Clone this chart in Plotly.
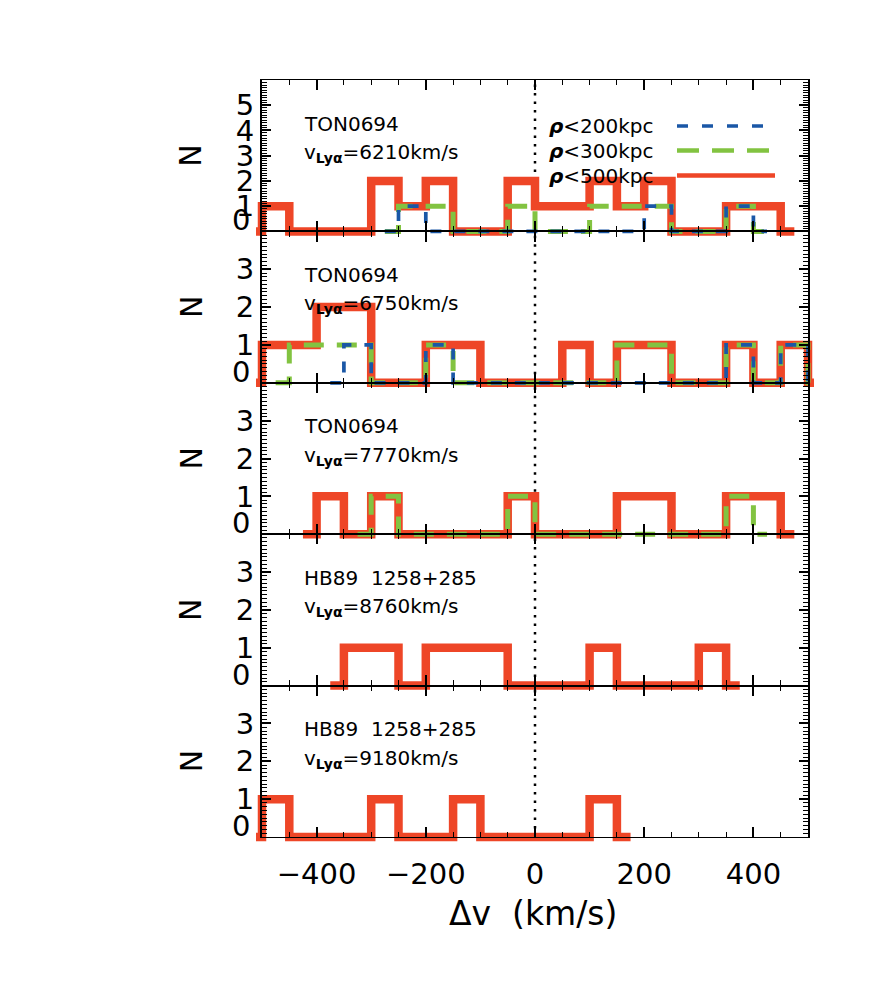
import plotly.graph_objects as go

# ---------------- data (bin centres in km/s, counts N) ----------------
p1_red_v = [-525, -475, -425, -375, -325, -275, -225, -175, -125, -75, -25, 25, 75, 125, 175, 225, 275, 325, 375, 425, 475]
p1_red_n = [0, 1, 0, 0, 0, 2, 1, 2, 0, 0, 2, 1, 1, 2, 1, 2, 0, 0, 1, 1, 0]
p1_green_v = [-275, -225, -175, -125, -75, -25, 25, 75, 125, 175, 225, 275, 325, 375, 425]
p1_green_n = [0, 1, 1, 0, 0, 1, 0, 0, 1, 1, 1, 0, 0, 1, 0]
p1_blue_v = [-275, -225, -175, -125, -75, -25, 25, 75, 125, 175, 225, 275, 325, 375, 425]
p1_blue_n = [0, 1, 0, 0, 0, 0, 0, 0, 0, 0, 1, 0, 0, 1, 0]

p2_red_v = [-525, -475, -425, -375, -325, -275, -225, -175, -125, -75, -25, 25, 75, 125, 175, 225, 275, 325, 375, 425, 475, 525]
p2_red_n = [0, 1, 1, 2, 2, 0, 0, 1, 1, 0, 0, 0, 1, 0, 1, 1, 0, 0, 1, 0, 1, 0]
p2_green_v = [-475, -425, -375, -325, -275, -225, -175, -125, -75, -25, 25, 75, 125, 175, 225, 275, 325, 375, 425, 475, 525]
p2_green_n = [0, 1, 1, 1, 0, 0, 1, 0, 0, 0, 0, 0, 0, 1, 1, 0, 0, 1, 0, 1, 0]
p2_blue_v = [-375, -325, -275, -225, -175, -125, -75, -25, 25, 75, 125, 175, 225, 275, 325, 375, 425, 475, 525]
p2_blue_n = [0, 1, 0, 0, 1, 0, 0, 0, 0, 0, 0, 0, 0, 0, 0, 1, 0, 1, 0]

p3_red_v = [-425, -375, -325, -275, -225, -175, -125, -75, -25, 25, 75, 125, 175, 225, 275, 325, 375, 425, 475]
p3_red_n = [0, 1, 0, 1, 0, 0, 0, 0, 1, 0, 0, 0, 1, 1, 0, 0, 1, 1, 0]
p3_green_v = [-325, -275, -225, -175, -125, -75, -25, 25, 75, 125, 175, 225, 275, 325, 375, 425]
p3_green_n = [0, 1, 0, 0, 0, 0, 1, 0, 0, 0, 0, 0, 0, 0, 1, 0]

p4_red_v = [-375, -325, -275, -225, -175, -125, -75, -25, 25, 75, 125, 175, 225, 275, 325, 375]
p4_red_n = [0, 1, 1, 0, 1, 1, 1, 0, 0, 0, 1, 0, 0, 0, 1, 0]

p5_red_v = [-525, -475, -425, -375, -325, -275, -225, -175, -125, -75, -25, 25, 75, 125, 175]
p5_red_n = [0, 1, 0, 0, 0, 1, 0, 0, 1, 0, 0, 0, 0, 1, 0]

qso_names = ["TON0694", "TON0694", "TON0694", "HB89  1258+285", "HB89  1258+285"]
v_lya = ["6210", "6750", "7770", "8760", "9180"]
y_max = [6, 4, 4, 4, 4]
legend_labels = ["200kpc", "300kpc", "500kpc"]
x_ticks_major = 200
x_ticks_minor = 50

panels = [
    [(p1_red_v, p1_red_n), (p1_green_v, p1_green_n), (p1_blue_v, p1_blue_n)],
    [(p2_red_v, p2_red_n), (p2_green_v, p2_green_n), (p2_blue_v, p2_blue_n)],
    [(p3_red_v, p3_red_n), (p3_green_v, p3_green_n), None],
    [(p4_red_v, p4_red_n), None, None],
    [(p5_red_v, p5_red_n), None, None],
]

# ---------------- styling / geometry ----------------
W, H = 886, 1003
RED, GREEN, BLUE = "#EE4627", "#82C341", "#1A57A6"
FONT = "DejaVu Sans"
XL, XR = 262, 808          # frame in px
YT, PH = 80, 151.4         # top of first panel, panel height (px)
EXT_X, EXT_Y = 6, 9        # extra clip room for thick step lines
ML = XL - EXT_X
MR = W - XR - EXT_X
MT = YT
YB = YT + 5 * PH
MB = H - (YB + EXT_Y)
PW = W - ML - MR
PHT = H - MT - MB
XSCALE = (XR - XL) / 1000.0


def fx(px):
    return (px - ML) / PW


def fy(py):
    return 1 - (py - MT) / PHT


fig = go.Figure()
layout = dict(
    width=W, height=H, paper_bgcolor="white", plot_bgcolor="rgba(0,0,0,0)",
    margin=dict(l=ML, r=MR, t=MT, b=MB, pad=0), showlegend=False,
    font=dict(family=FONT, color="black"),
)

# hidden axes carrying the histograms (slightly larger clip area)
ext_v = EXT_X / XSCALE
layout["xaxis"] = dict(domain=[0, 1], range=[-500 - ext_v, 500 + ext_v], visible=False, anchor="y")
for k in range(5):
    top = YT + k * PH
    bot = YT + (k + 1) * PH
    per_px = y_max[k] / PH
    name = "yaxis" if k == 0 else f"yaxis{k+1}"
    layout[name] = dict(domain=[fy(bot + EXT_Y), fy(top)], range=[-EXT_Y * per_px, y_max[k]],
                        visible=False, anchor="x")

# visible frame axes
for k in range(5):
    top = YT + k * PH
    bot = YT + (k + 1) * PH
    xa = f"xaxis{k+2}"
    ya = f"yaxis{k+6}"
    xdict = dict(
        domain=[fx(XL), fx(XR)], range=[-500, 500], anchor=f"y{k+6}",
        showline=True, linecolor="black", linewidth=1.3, mirror="ticks",
        ticks="inside", tickmode="linear", tick0=-400, dtick=x_ticks_major,
        ticklen=10, tickwidth=1.5, tickcolor="black",
        minor=dict(ticks="inside", dtick=x_ticks_minor, tick0=0, ticklen=5, tickwidth=1, tickcolor="black"),
        showgrid=False, zeroline=False, showticklabels=(k == 4),
        tickfont=dict(family=FONT, size=29, color="black"),
    )
    if k == 4:
        xdict["ticklabelstandoff"] = 11
    layout[xa] = xdict
    layout[ya] = dict(
        domain=[fy(bot), fy(top)], range=[0, y_max[k]], anchor=f"x{k+2}",
        showline=True, linecolor="black", linewidth=2, mirror="ticks",
        ticks="inside", tickmode="array", tickvals=list(range(0, y_max[k] + 1)),
        ticktext=[""] + [str(i) for i in range(1, y_max[k])] + [""],
        ticklen=9, tickwidth=1.5, tickcolor="black",
        minor=dict(ticks="inside", dtick=0.1, tick0=0, ticklen=5, tickwidth=1, tickcolor="black"),
        showgrid=False, zeroline=False,
        tickfont=dict(family=FONT, size=29, color="black"),
    )

fig.update_layout(**layout)

# histogram traces
styles = [
    dict(color=RED, width=8.5, dash="solid"),
    dict(color=GREEN, width=5, dash="20px,13px"),
    dict(color=BLUE, width=3.7, dash="11px,13px"),
]
for k, series in enumerate(panels):
    yref = "y" if k == 0 else f"y{k+1}"
    # dotted zero-velocity line (below traces)
    fig.add_shape(type="line", xref="x", yref=yref, x0=0, x1=0, y0=0, y1=y_max[k],
                  line=dict(color="black", width=2.5, dash="2.5px,6px"), layer="below")
    for s, st in zip(series, styles):
        if s is None:
            continue
        v, n = s
        fig.add_trace(go.Scatter(x=v, y=n, mode="lines", xaxis="x", yaxis=yref,
                                 line=dict(shape="hvh", color=st["color"], width=st["width"], dash=st["dash"]),
                                 hoverinfo="skip"))

# empty traces so that the frame subplots exist (drawn after, i.e. on top)
for k in range(5):
    fig.add_trace(go.Scatter(x=[], y=[], mode="lines", xaxis=f"x{k+2}", yaxis=f"y{k+6}",
                             hoverinfo="skip"))

annotations = []
for k in range(5):
    top = YT + k * PH
    bot = YT + (k + 1) * PH
    annotations.append(dict(text=qso_names[k], x=fx(302), y=fy(top + 43.5), xref="paper", yref="paper",
                            xanchor="left", yanchor="middle", showarrow=False,
                            font=dict(family=FONT, size=20, color="black")))
    annotations.append(dict(text=f"v<sub><b>Lyα</b></sub>={v_lya[k]}km/s", x=fx(302), y=fy(top + 73),
                            xref="paper", yref="paper", xanchor="left", yanchor="middle", showarrow=False,
                            font=dict(family=FONT, size=20, color="black")))
    annotations.append(dict(text="N", x=fx(191), y=fy((top + bot) / 2), xref="paper", yref="paper",
                            textangle=-90, showarrow=False, xanchor="center", yanchor="middle",
                            font=dict(family=FONT, size=30, color="black")))
    annotations.append(dict(text="0", x=fx(252), y=fy(bot - 11), xref="paper", yref="paper",
                            xanchor="right", yanchor="middle", showarrow=False,
                            font=dict(family=FONT, size=29, color="black")))

annotations.append(dict(text="Δv\u00a0\u00a0(km/s)", x=fx(533), y=fy(913), xref="paper", yref="paper",
                        xanchor="center", yanchor="middle", showarrow=False,
                        font=dict(family=FONT, size=33, color="black")))

# legend (text left, line sample right)
leg_y = [126, 150.5, 175.5]
leg_colors = [BLUE, GREEN, RED]
leg_dash = ["11px,14px", "22px,13px", "solid"]
leg_w = [3.5, 4.5, 4.5]
leg_x1 = [763, 775, 775]
for i in range(3):
    annotations.append(dict(text=f"<i><b>ρ</b></i>&lt;{legend_labels[i]}", x=fx(547), y=fy(leg_y[i]),
                            xref="paper", yref="paper", xanchor="left", yanchor="middle", showarrow=False,
                            font=dict(family=FONT, size=20, color="black")))
    fig.add_shape(type="line", xref="paper", yref="paper", x0=fx(677), x1=fx(leg_x1[i]),
                  y0=fy(leg_y[i]), y1=fy(leg_y[i]),
                  line=dict(color=leg_colors[i], width=leg_w[i], dash=leg_dash[i]), layer="above")

fig.update_layout(annotations=annotations)
fig.write_html("out.html")
